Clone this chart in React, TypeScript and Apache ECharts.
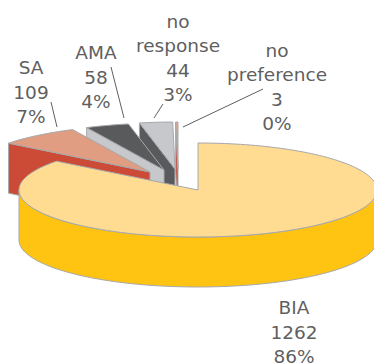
import React, { useEffect, useRef } from "react";
import * as echarts from "echarts";

const categories = ["BIA", "SA", "AMA", "no\nresponse", "no\npreference"];
const counts = [1262, 109, 58, 44, 3];
const percents = ["86%", "7%", "4%", "3%", "0%"];

const topColors = ["#FFDC91", "#E09D82", "#595A5C", "#C6C8CB", "#E6A48C"];
const sideColors = ["#FFC312", "#CB4B36", "#C6C8CB", "#595A5C", "#CB4B36"];

// Pull of each slice away from the pie's centre, in screen pixels.
const pullX = [0, -48, -34, -23, -20];
const pullY = [0, -18, -20, -21, -21];

// Where each label block sits and where its leader line runs.
const labelX = [294, 31, 96, 178, 277];
const labelY = [332, 92, 77, 58, 87];
const leaders: (number[] | null)[] = [
  null,
  [51, 102, 57, 127],
  [111, 67, 124, 118],
  [163, 104, 154, 118],
  [263, 89, 183, 127],
];

const CX = 198;
const CY = 190;
const RX = 179;
const RY = 47;
const DEPTH = 50;
const EDGE = "#A6A8AB";
const TEXT = "#5F5F5F";

const total = counts.reduce((a, b) => a + b, 0);
const startAngles: number[] = [];
counts.reduce((sum, v, i) => {
  startAngles[i] = (sum / total) * Math.PI * 2;
  return sum + v;
}, 0);

// Angles run clockwise from twelve o'clock; the disc is squashed into an ellipse.
const rimPoint = (ox: number, oy: number, a: number, drop = 0) => [
  ox + RX * Math.sin(a),
  oy - RY * Math.cos(a) + drop,
];

const arcPoints = (ox: number, oy: number, a0: number, a1: number, drop = 0) => {
  const n = Math.max(2, Math.ceil(Math.abs(a1 - a0) / 0.03));
  const pts: number[][] = [];
  for (let k = 0; k <= n; k++) pts.push(rimPoint(ox, oy, a0 + ((a1 - a0) * k) / n, drop));
  return pts;
};

function renderSlice(params: any, api: any) {
  const i = api.value(0) as number;
  const a0 = startAngles[i];
  const a1 = a0 + (counts[i] / total) * Math.PI * 2;
  const ox = CX + pullX[i];
  const oy = CY + pullY[i];
  const children: any[] = [];
  const face = (points: number[][], fill: string) =>
    children.push({
      type: "polygon",
      shape: { points },
      style: { fill, stroke: EDGE, lineWidth: 1 },
    });

  // Near wall along the slice's first radius; it faces the viewer only for the small slices.
  if (i > 0) {
    const p = rimPoint(ox, oy, a0);
    face(
      [
        [ox, oy],
        p,
        [p[0], p[1] + DEPTH],
        [ox, oy + DEPTH],
      ],
      sideColors[i]
    );
  }
  // Front rim covers the part of the slice on the lower half of the ellipse.
  const low = Math.max(a0, Math.PI / 2);
  const high = Math.min(a1, (Math.PI * 3) / 2);
  if (high > low) {
    const upper = arcPoints(ox, oy, low, high);
    const lower = arcPoints(ox, oy, high, low, DEPTH);
    face([...upper, ...lower], sideColors[i]);
  }
  // Top face of the slice.
  face([[ox, oy], ...arcPoints(ox, oy, a0, a1)], topColors[i]);

  children.push({
    type: "text",
    style: {
      text: `${categories[i]}\n${counts[i]}\n${percents[i]}`,
      x: labelX[i],
      y: labelY[i],
      fill: TEXT,
      fontFamily: "DejaVu Sans",
      fontSize: 18.5,
      lineHeight: 24.3,
      align: "center",
      verticalAlign: "middle",
    },
  });
  const leader = leaders[i];
  if (leader) {
    children.push({
      type: "line",
      shape: { x1: leader[0], y1: leader[1], x2: leader[2], y2: leader[3] },
      style: { stroke: TEXT, lineWidth: 1 },
    });
  }
  return { type: "group", children };
}

export default function App() {
  const ref = useRef<HTMLDivElement>(null);
  useEffect(() => {
    if (!ref.current) return;
    const chart = echarts.init(ref.current, undefined, { renderer: "svg" });
    // Painted from the back of the pie to the front, with the large slice last.
    const drawOrder = counts.map((_, i) => [counts.length - 1 - i]);
    chart.setOption({
      animation: false,
      backgroundColor: "#ffffff",
      series: [
        {
          type: "custom",
          coordinateSystem: "none",
          silent: true,
          encode: { value: 0 },
          data: drawOrder,
          renderItem: renderSlice,
        },
      ],
    });
    return () => chart.dispose();
  }, []);
  return (
    <div
      ref={ref}
      style={{ position: "fixed", left: 0, top: 0, width: 374, height: 363 }}
    />
  );
}
